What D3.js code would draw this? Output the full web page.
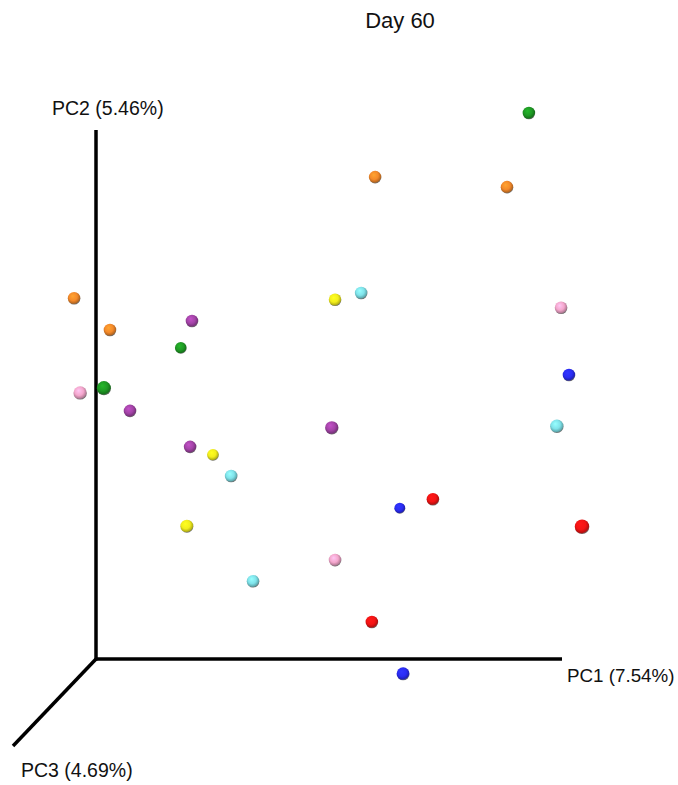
<!DOCTYPE html>
<html>
<head>
<meta charset="utf-8">
<script src="https://cdn.jsdelivr.net/npm/d3@7"></script>
<style>
  body { margin: 0; background: #fff; }
  text { font-family: "Liberation Sans", Arial, sans-serif; fill: #111; }
</style>
</head>
<body>
<svg id="chart" width="678" height="785"></svg>
<script>
var title = "Day 60";
var axisLabels = ["PC1 (7.54%)", "PC2 (5.46%)", "PC3 (4.69%)"];
// projected positions, in % of the drawn PC1 / PC2 axis length
var groups = ["orange", "green", "purple", "yellow", "cyan", "pink", "blue", "red"];
var groupColors = ["#f58a2a", "#1f9a24", "#a444a8", "#f2ee1c", "#7fe3ea", "#f4a6cc", "#2a2cf4", "#f41414"];
var group = ["green", "orange", "orange", "orange", "orange", "purple", "green", "yellow", "cyan", "pink",
             "blue", "green", "pink", "purple", "purple", "cyan", "purple", "yellow", "cyan", "red",
             "blue", "red", "yellow", "pink", "cyan", "red", "blue"];
var px = [92.9, 59.9, 88.2, -4.7, 3.0, 20.6, 18.2, 51.3, 56.9, 99.8,
          101.5, 1.7, -3.4, 7.3, 50.6, 98.9, 20.2, 25.1, 29.0, 72.3,
          65.2, 104.3, 19.5, 51.3, 33.7, 59.2, 65.9];
var py = [103.2, 91.1, 89.2, 68.2, 62.2, 63.9, 58.8, 67.9, 69.2, 66.4,
          53.7, 51.2, 50.3, 46.9, 43.7, 44.0, 40.1, 38.6, 34.6, 30.2,
          28.5, 25.0, 25.1, 18.7, 14.7, 7.0, -2.8];
// nearness to viewer (PC3 depth), 0 = far, 1 = near
var depth = [0.5, 0.5, 0.5, 0.5, 0.5, 0.5, 0.3, 0.5, 0.5, 0.5,
             0.5, 0.9, 0.7, 0.5, 0.7, 0.7, 0.5, 0.3, 0.5, 0.5,
             0.1, 1.0, 0.6, 0.5, 0.5, 0.5, 0.6];

var svg = d3.select("#chart");
var origin = { x: 96, y: 659 };
var x = d3.scaleLinear().domain([0, 100]).range([origin.x, 562]);
var y = d3.scaleLinear().domain([0, 100]).range([origin.y, 130]);
var r = d3.scaleLinear().domain([0, 1]).range([5.3, 7.3]);
var color = d3.scaleOrdinal().domain(groups).range(groupColors);

// sphere shading gradients
var defs = svg.append("defs");
groups.forEach(function (g) {
    var c = d3.color(color(g));
    var grad = defs.append("radialGradient").attr("id", "sph-" + g)
        .attr("cx", "45%").attr("cy", "40%").attr("r", "60%")
        .attr("fx", "38%").attr("fy", "32%");
    grad.append("stop").attr("offset", "0%").attr("stop-color", c.brighter(0.5));
    grad.append("stop").attr("offset", "55%").attr("stop-color", c);
    grad.append("stop").attr("offset", "85%").attr("stop-color", c.darker(0.8));
    grad.append("stop").attr("offset", "100%").attr("stop-color", "#6a6a6a");
});

// axes
var axisStyle = function (sel) { sel.attr("stroke", "#000").attr("stroke-width", 3.5).attr("stroke-linecap", "butt"); };
svg.append("line").attr("x1", origin.x).attr("y1", origin.y).attr("x2", x(100)).attr("y2", origin.y).call(axisStyle);
svg.append("line").attr("x1", origin.x).attr("y1", origin.y + 1.5).attr("x2", origin.x).attr("y2", y(100)).call(axisStyle);
svg.append("line").attr("x1", origin.x).attr("y1", origin.y).attr("x2", 13).attr("y2", 746).call(axisStyle);

svg.append("text").attr("x", 400).attr("y", 28).attr("text-anchor", "middle").attr("font-size", 22).text(title);
svg.append("text").attr("x", 567).attr("y", 682).attr("font-size", 18.8).text(axisLabels[0]);
svg.append("text").attr("x", 52).attr("y", 115).attr("font-size", 19.5).text(axisLabels[1]);
svg.append("text").attr("x", 21).attr("y", 777).attr("font-size", 19.5).text(axisLabels[2]);

var idx = d3.range(px.length).sort(function (a, b) { return depth[a] - depth[b]; });
svg.append("g").selectAll("circle").data(idx).enter().append("circle")
    .attr("cx", function (i) { return x(px[i]); })
    .attr("cy", function (i) { return y(py[i]); })
    .attr("r", function (i) { return r(depth[i]); })
    .attr("fill", function (i) { return "url(#sph-" + group[i] + ")"; });
</script>
</body>
</html>
